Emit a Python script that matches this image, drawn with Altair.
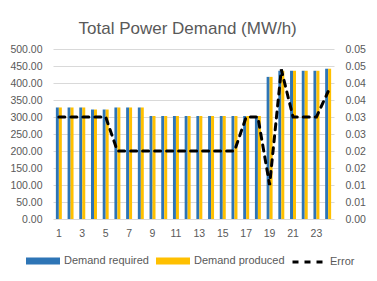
import altair as alt
import pandas as pd

hours = list(range(1, 25))
demand_required = [328, 328, 328, 322, 322, 328, 328, 328, 303, 303, 303, 303,
                   303, 303, 303, 303, 303, 303, 418, 436, 436, 436, 436, 442]
demand_produced = [328, 328, 328, 322, 322, 328, 328, 328, 303, 303, 303, 303,
                   303, 303, 303, 303, 303, 303, 418, 436, 436, 436, 436, 442]
error = [0.03, 0.03, 0.03, 0.03, 0.03, 0.02, 0.02, 0.02, 0.02, 0.02, 0.02, 0.02,
         0.02, 0.02, 0.02, 0.02, 0.03, 0.03, 0.01, 0.044, 0.03, 0.03, 0.03, 0.0375]
series_names = ["Demand required", "Demand produced"]
series_colors = ["#2E75B6", "#FFC000"]
left_ticks = [0, 50, 100, 150, 200, 250, 300, 350, 400, 450, 500]
right_ticks = [0, 0.005, 0.01, 0.015, 0.02, 0.025, 0.03, 0.035, 0.04, 0.045, 0.05]
x_labels = [1, 3, 5, 7, 9, 11, 13, 15, 17, 19, 21, 23]

FONT = "Liberation Sans"
GREY = "#595959"

bars_df = pd.DataFrame(
    [{"hour": h, "series": series_names[0], "value": v} for h, v in zip(hours, demand_required)]
    + [{"hour": h, "series": series_names[1], "value": v} for h, v in zip(hours, demand_produced)]
)
err_df = pd.DataFrame({"hour": hours, "error": error, "metric": ["Error"] * len(hours)})

x_enc = alt.X(
    "hour:O",
    scale=alt.Scale(paddingInner=0.49, paddingOuter=0.245),
    axis=alt.Axis(values=x_labels, labelAngle=0, title=None, labelPadding=9,
                  domain=False, ticks=False, tickSize=0, grid=False),
)

bars = alt.Chart(bars_df).mark_bar().encode(
    x=x_enc,
    xOffset=alt.XOffset("series:N", scale=alt.Scale(domain=series_names, paddingInner=0, paddingOuter=0)),
    y=alt.Y("value:Q", scale=alt.Scale(domain=[0, 500], nice=False),
            axis=alt.Axis(values=left_ticks, format=".2f", title=None, labelPadding=11,
                          domain=False, ticks=False, tickSize=0, grid=True)),
    color=alt.Color("series:N", scale=alt.Scale(domain=series_names, range=series_colors),
                    legend=alt.Legend(orient="none", legendX=-27, legendY=195, direction="horizontal",
                                      title=None, symbolType="M-1,-0.2H1V0.2H-1Z", symbolSize=1156,
                                      symbolStrokeWidth=0, labelOffset=4, columnPadding=7)),
)

line = alt.Chart(err_df).mark_line(color="black", strokeWidth=3, strokeCap="round").encode(
    x=x_enc,
    y=alt.Y("error:Q", scale=alt.Scale(domain=[0, 0.05], nice=False),
            axis=alt.Axis(values=right_ticks, labelExpr="format(datum.value + 0.0001, '.2f')",
                          orient="right", title=None, labelPadding=11, domain=False,
                          ticks=False, tickSize=0, grid=False)),
    strokeDash=alt.StrokeDash("metric:N", scale=alt.Scale(domain=["Error"], range=[[6, 6]]),
                              legend=alt.Legend(orient="none", legendX=238, legendY=195, title=None,
                                                symbolType="stroke", symbolSize=1089,
                                                symbolStrokeColor="black", symbolStrokeWidth=3,
                                                symbolDash=[8, 4], labelOffset=3)),
)

chart = alt.layer(bars, line).resolve_scale(
    y="independent", color="independent", strokeDash="independent"
).properties(
    width=281,
    height=170,
    title=alt.TitleParams("Total Power Demand (MW/h)", fontSize=17, font=FONT, color=GREY,
                          fontWeight="normal", anchor="middle", frame="bounds", offset=6),
    autosize=alt.AutoSizeParams(type="none"),
    padding={"left": 45, "top": 41, "right": 35, "bottom": 54},
    background="white",
).configure_view(stroke=None).configure_axis(
    labelFont=FONT, labelFontSize=10.5, labelColor=GREY, gridColor="#D9D9D9", gridWidth=1
).configure_legend(
    labelFont=FONT, labelFontSize=11, labelColor=GREY
)

chart.save("out.html", embed_options={"renderer": "svg", "actions": False})
